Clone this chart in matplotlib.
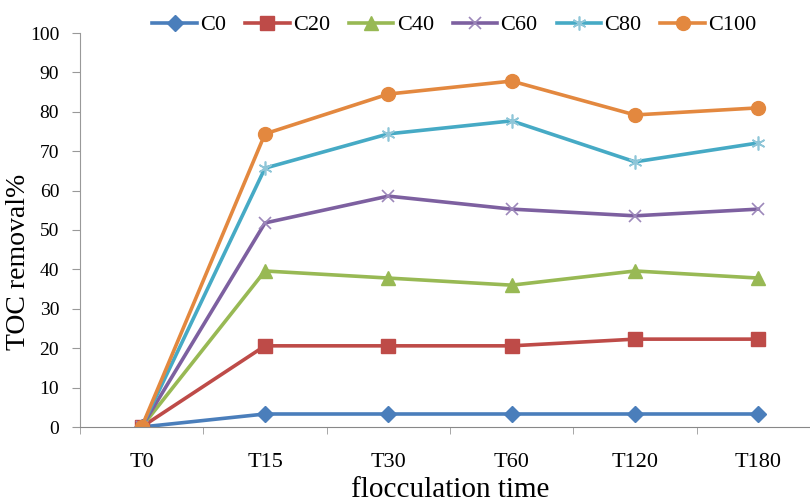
import matplotlib.pyplot as plt
import numpy as np

times = ['T0', 'T15', 'T30', 'T60', 'T120', 'T180']
c0 = [0, 3.3, 3.3, 3.3, 3.3, 3.3]
c20 = [0, 20.6, 20.6, 20.6, 22.3, 22.3]
c40 = [0, 39.6, 37.8, 36.0, 39.6, 37.8]
c60 = [0, 51.8, 58.6, 55.3, 53.6, 55.3]
c80 = [0, 65.7, 74.4, 77.7, 67.3, 72.1]
c100 = [0, 74.4, 84.5, 87.8, 79.2, 81.0]

plt.rcParams['font.family'] = ['Liberation Serif', 'DejaVu Serif']

fig = plt.figure(figsize=(8.1, 5.04), dpi=100)
ax = fig.add_axes([80/810, 77/504, 740/810, 394/504])

x = np.arange(len(times))
styles = [
    ('C0', c0, '#4A7EBB', 'D', 8),
    ('C20', c20, '#BE4B48', 's', 10),
    ('C40', c40, '#98B954', '^', 10),
    ('C60', c60, '#7D60A0', 'x', 9),
    ('C80', c80, '#46AAC5', '*', 0),
    ('C100', c100, '#E3883F', 'o', 10),
]
for name, vals, col, mk, ms in styles:
    if mk == '*':
        ax.plot(x, vals, color=col, lw=2.6, marker=(6, 2, 0), ms=10,
                mec='#8FC6D8', mew=1.2, label=name)
    elif mk == 'x':
        ax.plot(x, vals, color=col, lw=2.6, marker='x', ms=ms,
                mec='#9C88BA', mew=1.2, label=name)
    else:
        ax.plot(x, vals, color=col, lw=2.6, marker=mk, ms=ms,
                mec=col, label=name)

ax.set_xlim(-0.5, 5.5)
ax.set_ylim(0, 100)
ax.set_yticks(np.arange(0, 101, 10))
ax.set_xticks(x)
ax.set_xticklabels(times)
ax.set_xticks(np.arange(-0.5, 5.6, 1), minor=True)
ax.tick_params(axis='x', which='major', length=0, labelsize=16, pad=19)
ax.tick_params(axis='x', which='minor', length=5, color='#999999', direction='out')
ax.tick_params(axis='y', length=6, color='#999999', labelsize=14, pad=9)

for s in ['top', 'right']:
    ax.spines[s].set_visible(False)
ax.spines['left'].set_color('#999999')
ax.spines['bottom'].set_color('#888888')
ax.spines['bottom'].set_linestyle((0, (3, 1)))
ax.patch.set_alpha(0)

ax.set_ylabel('TOC removal%', fontsize=20)
ax.yaxis.set_label_coords(-0.066, 0.42)
ax.set_xlabel('flocculation time', fontsize=21, labelpad=3)

fig.legend(loc='center', bbox_to_anchor=(0.561, 0.95), ncol=6, frameon=False,
           fontsize=16, handlelength=2.0, handletextpad=0.15, columnspacing=0.85)

plt.savefig('out.png', dpi=100)
